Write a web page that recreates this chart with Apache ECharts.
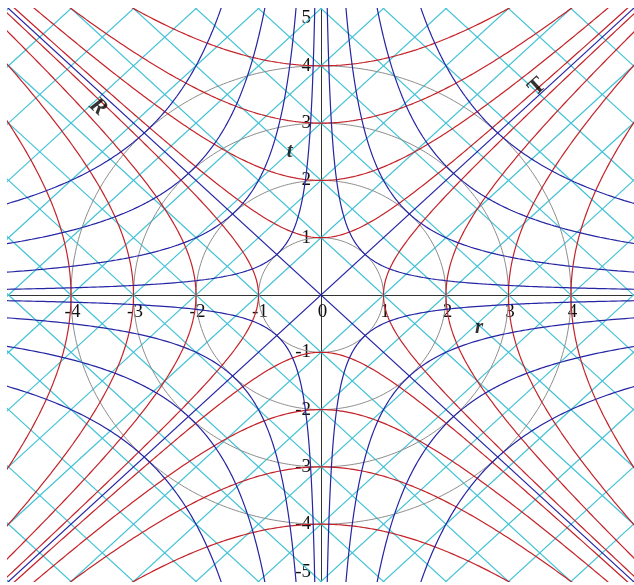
<!DOCTYPE html>
<html>
<head>
<meta charset="utf-8">
<script src="https://cdn.jsdelivr.net/npm/echarts@6/dist/echarts.min.js"></script>
<style>
html,body{margin:0;padding:0;background:#fff;}
#chart{width:634px;height:585px;}
</style>
</head>
<body>
<div id="chart"></div>
<script>
// ---- data ----
const axisMin = -5;
const axisMax = 5;
const tickInterval = 1;
const xTickLabels = ['-4', '-3', '-2', '-1', '0', '1', '2', '3', '4'];
const yTickLabels = ['-5', '-4', '-3', '-2', '-1', '1', '2', '3', '4', '5'];
// red hyperbolas: t^2 - r^2 = k^2 and r^2 - t^2 = k^2
const redHyperbolaK = [1, 2, 3, 4];
// blue hyperbolas (rotated frame): 2 r t = ±k^2
const blueHyperbolaK = [1, 2, 3, 4];
// gray circles r^2 + t^2 = k^2
const circleRadii = [1, 2, 3, 4];
// cyan null lines: t - r = c and t + r = c
const nullLineOffsets = [-10, -9, -8, -7, -6, -5, -4, -3, -2, -1, 1, 2, 3, 4, 5, 6, 7, 8, 9, 10];
// light cone (blue diagonals): t = s * r
const lightConeSlopes = [1, -1];
// annotation labels
const annotationText = ['t', 'r', 'R', 'T'];
const annotationR = [-0.5, 2.53, -3.57, 3.46];
const annotationT = [2.5, -0.56, 3.28, 3.63];
const annotationRotate = [0, 0, -42, 42];
const annotationItalic = ['italic', 'italic', 'italic', 'normal'];
const annotationSize = [21, 21, 23, 23];

// ---- build ----
const RED = '#c42228';
const BLUE = '#2424a4';
const CYAN = '#42c2d6';
const GRAY = '#8c8c8c';

const W = 634, H = 585;
const G = {left: 8.5, right: 0.5, top: 8.5, bottom: 3.5};
const gridW = W - G.left - G.right;
const gridH = H - G.top - G.bottom;
// axes placed through the origin (middle of the symmetric range)
const xAxisOffset = -gridH * (0 - axisMin) / (axisMax - axisMin);
const yAxisOffset = -gridW * (0 - axisMin) / (axisMax - axisMin);

function lineSeries(data, color, width, z) {
  return {
    type: 'line', data: data, showSymbol: false, symbol: 'none',
    lineStyle: {color: color, width: width}, silent: true, z: z,
    clip: true, animation: false
  };
}
const series = [];
const ext = 7;
nullLineOffsets.forEach(c => {
  series.push(lineSeries([[-ext - 10, c - ext - 10], [ext + 10, c + ext + 10]], CYAN, 1.2, 1));
  series.push(lineSeries([[-ext - 10, c + ext + 10], [ext + 10, c - ext - 10]], CYAN, 1.2, 1));
});
circleRadii.forEach(k => {
  const d = [];
  for (let i = 0; i <= 360; i++) {
    const a = i * Math.PI / 180;
    d.push([k * Math.cos(a), k * Math.sin(a)]);
  }
  series.push(lineSeries(d, GRAY, 1, 2));
});
redHyperbolaK.forEach(k => {
  const up = [], down = [], right = [], left = [];
  for (let i = -400; i <= 400; i++) {
    const s = i * 0.02;
    const h = Math.sqrt(s * s + k * k);
    up.push([s, h]); down.push([s, -h]);
    right.push([h, s]); left.push([-h, s]);
  }
  [up, down, right, left].forEach(d => series.push(lineSeries(d, RED, 1.2, 3)));
});
blueHyperbolaK.forEach(k => {
  const a = k / Math.sqrt(2);
  const q1 = [], q2 = [], q3 = [], q4 = [];
  for (let i = -300; i <= 300; i++) {
    const u = i * 0.012;
    const r = a * Math.exp(u), t = a * Math.exp(-u);
    q1.push([r, t]); q2.push([-r, t]); q3.push([-r, -t]); q4.push([r, -t]);
  }
  [q1, q2, q3, q4].forEach(d => series.push(lineSeries(d, BLUE, 1.2, 4)));
});
lightConeSlopes.forEach(s => {
  series.push(lineSeries([[-ext, -ext * s], [ext, ext * s]], BLUE, 1.2, 4));
});
series.push({
  type: 'scatter', symbolSize: 0, silent: true, z: 6, animation: false,
  data: annotationText.map((txt, i) => ({
    value: [annotationR[i], annotationT[i]],
    label: {
      show: true, position: 'inside', formatter: txt,
      rotate: annotationRotate[i],
      fontFamily: '"Liberation Serif", "Times New Roman", serif', fontWeight: 'bold',
      fontStyle: annotationItalic[i], fontSize: annotationSize[i], color: '#000'
    }
  }))
});

const chart = echarts.init(document.getElementById('chart'), null, {renderer: 'canvas'});
chart.setOption({
  animation: false,
  backgroundColor: '#fff',
  grid: {left: G.left, right: G.right, top: G.top, bottom: G.bottom, containLabel: false, outerBoundsMode: 'none'},
  xAxis: {
    type: 'value', min: axisMin, max: axisMax, interval: tickInterval,
    position: 'bottom', offset: xAxisOffset,
    axisLine: {onZero: false, lineStyle: {color: '#333', width: 1}},
    axisTick: {show: false},
    splitLine: {show: false},
    axisLabel: {
      margin: 8, color: '#111', fontFamily: '"Liberation Serif", "Times New Roman", serif', fontSize: 19,
      formatter: v => { const s = String(v); return xTickLabels.indexOf(s) >= 0 ? s : ''; },
      padding: [0, 0, 0, 3]
    }
  },
  yAxis: {
    type: 'value', min: axisMin, max: axisMax, interval: tickInterval,
    position: 'left', offset: yAxisOffset,
    axisLine: {onZero: false, lineStyle: {color: '#333', width: 1}},
    axisTick: {show: false},
    splitLine: {show: false},
    axisLabel: {
      margin: 10, color: '#111', fontFamily: '"Liberation Serif", "Times New Roman", serif', fontSize: 19,
      formatter: v => { const s = String(v); return yTickLabels.indexOf(s) >= 0 ? s : ''; },
      verticalAlignMaxLabel: 'top', verticalAlignMinLabel: 'bottom'
    }
  },
  series: series
});
</script>
</body>
</html>
